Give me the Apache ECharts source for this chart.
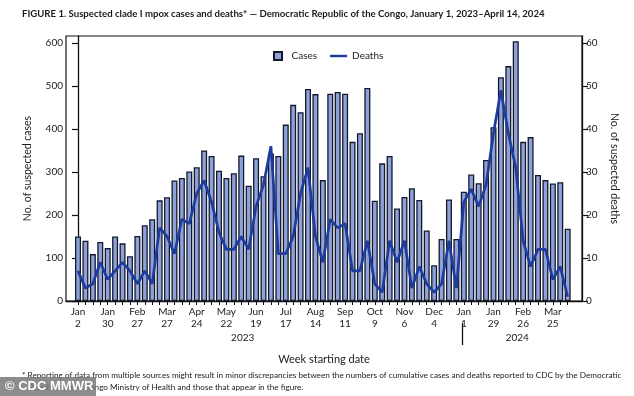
<!DOCTYPE html>
<html>
<head>
<meta charset="utf-8">
<script src="https://cdn.jsdelivr.net/npm/echarts@6/dist/echarts.min.js"></script>
<style>
  html, body { margin: 0; padding: 0; background: #fff; }
  #chart { width: 634px; height: 396px; }
</style>
</head>
<body>
<div id="chart"></div>
<script>
// week starting dates, Jan 2 2023 .. Apr 8 2024
const weeks = [
  'Jan 2', 'Jan 9', 'Jan 16', 'Jan 23', 'Jan 30', 'Feb 6', 'Feb 13', 'Feb 20', 'Feb 27',
  'Mar 6', 'Mar 13', 'Mar 20', 'Mar 27', 'Apr 3', 'Apr 10', 'Apr 17', 'Apr 24',
  'May 1', 'May 8', 'May 15', 'May 22', 'May 29', 'Jun 5', 'Jun 12', 'Jun 19', 'Jun 26',
  'Jul 3', 'Jul 10', 'Jul 17', 'Jul 24', 'Jul 31', 'Aug 7', 'Aug 14', 'Aug 21', 'Aug 28',
  'Sep 4', 'Sep 11', 'Sep 18', 'Sep 25', 'Oct 2', 'Oct 9', 'Oct 16', 'Oct 23', 'Oct 30',
  'Nov 6', 'Nov 13', 'Nov 20', 'Nov 27', 'Dec 4', 'Dec 11', 'Dec 18', 'Dec 25',
  'Jan 1', 'Jan 8', 'Jan 15', 'Jan 22', 'Jan 29', 'Feb 5', 'Feb 12', 'Feb 19', 'Feb 26',
  'Mar 4', 'Mar 11', 'Mar 18', 'Mar 25', 'Apr 1', 'Apr 8'
];

const cases = [
  150, 140, 109, 137, 123, 150, 134, 104, 151, 176, 190, 234, 241, 280, 286, 301, 311,
  350, 337, 303, 286, 297, 338, 268, 332, 290, 343, 337, 410, 456, 439, 493, 481, 281,
  482, 486, 482, 370, 390, 495, 233, 320, 337, 215, 242, 262, 235, 164, 83, 144, 236,
  144, 254, 294, 274, 328, 404, 520, 546, 604, 370, 381, 293, 281, 273, 276, 168
];

const deaths = [
  7, 3, 4, 9, 5, 7, 9, 7, 4, 7, 4, 17, 15, 11, 19, 18, 25, 28, 23, 16, 12, 12, 15, 12,
  22, 27, 36, 11, 11, 15, 25, 31, 15, 9, 19, 17, 18, 7, 7, 14, 4, 2, 14, 9, 14, 3, 8,
  4, 2, 4, 14, 3, 23, 26, 22, 27, 39, 49, 39, 31, 14, 8, 12, 12, 5, 8, 1
];

const caseTicks = [0, 100, 200, 300, 400, 500, 600];
const deathTicks = [0, 10, 20, 30, 40, 50, 60];
const years = ['2023', '2024'];

const FONT = 'Lato, "Liberation Sans", sans-serif';
const BAR_FILL = '#8fa2d8';
const BAR_EDGE = '#14182e';
const LINE_COLOR = '#1d3c9e';

const chart = echarts.init(document.getElementById('chart'), null, { renderer: 'canvas' });

const weekIdx = weeks.map((w, i) => i);
const labelIdx = weekIdx.filter(i => i % 4 === 0);

const option = {
  backgroundColor: '#fff',
  animation: false,
  textStyle: { fontFamily: FONT },
  grid: {
    left: 66, right: 52, top: 36, bottom: 95,
    show: true, borderColor: '#111', borderWidth: 1.2
  },
  legend: {
    left: 268, top: 46,
    itemWidth: 17, itemHeight: 8, itemGap: 13,
    textStyle: { fontFamily: FONT, fontSize: 10, color: '#222' },
    data: [
      { name: 'Cases', icon: 'path://M0,0 h8 v8 h-8 z' },
      { name: 'Deaths', icon: 'path://M0,0 h18 v2.6 h-18 z' }
    ]
  },
  xAxis: {
    type: 'value',
    min: -1.62,
    max: 67.93,
    splitLine: { show: false },
    axisLine: { show: true, lineStyle: { color: '#111', width: 1.3 } },
    axisTick: { show: true, length: 4, customValues: weekIdx, lineStyle: { color: '#111', width: 1 } },
    axisLabel: {
      customValues: labelIdx,
      formatter: v => weeks[v].replace(' ', '\n'),
      fontFamily: FONT, fontSize: 10, lineHeight: 12, color: '#222', margin: 5
    }
  },
  yAxis: [
    {
      type: 'value', min: 0, max: 616,
      name: 'No. of suspected cases', nameLocation: 'middle', nameGap: 33,
      nameTextStyle: { fontFamily: FONT, fontSize: 10.5, color: '#222' },
      splitLine: { show: false },
      axisLine: { show: true, lineStyle: { color: '#111', width: 1.3 } },
      axisTick: { show: true, length: 6, customValues: caseTicks, lineStyle: { color: '#111', width: 1.2 } },
      axisLabel: { customValues: caseTicks, fontFamily: FONT, fontSize: 10, color: '#222', margin: 3 }
    },
    {
      type: 'value', min: 0, max: 61.6, position: 'right',
      name: 'No. of suspected deaths', nameLocation: 'middle', nameGap: 19, nameRotate: -90,
      nameTextStyle: { fontFamily: FONT, fontSize: 10.5, color: '#222' },
      splitLine: { show: false },
      axisLine: { show: true, lineStyle: { color: '#111', width: 1.3 } },
      axisTick: { show: true, length: 6, customValues: deathTicks, lineStyle: { color: '#111', width: 1.2 } },
      axisLabel: { customValues: deathTicks, fontFamily: FONT, fontSize: 10, color: '#222', margin: 4 }
    }
  ],
  series: [
    {
      name: 'Cases',
      type: 'bar',
      barWidth: 6,
      itemStyle: { color: BAR_FILL, borderColor: BAR_EDGE, borderWidth: 1.3 },
      data: cases.map((v, i) => [i, v])
    },
    {
      name: 'Deaths',
      type: 'line',
      yAxisIndex: 1,
      symbol: 'none',
      lineStyle: { color: LINE_COLOR, width: 2.7 },
      itemStyle: { color: LINE_COLOR },
      data: deaths.map((v, i) => [i, v]),
      z: 5
    }
  ]
};

chart.setOption(option);

// decorations positioned from the axis scale
const px = i => chart.convertToPixel({ xAxisIndex: 0 }, i);
const sepX = Math.round(px(51.8)) + 0.5;
const yr1X = px(22.2);
const yr2X = px(59.2);

chart.setOption({
  graphic: [
    {
      type: 'text', left: 22, top: 9,
      style: {
        text: 'FIGURE 1. Suspected clade I mpox cases and deaths* \u2014 Democratic Republic of the Congo, January 1, 2023\u2013April 14, 2024',
        font: 'bold 9.6px ' + FONT, fill: '#1a1a1a'
      }
    },
    {
      type: 'text', x: yr1X, y: 333,
      style: { text: years[0], align: 'center', font: '10px ' + FONT, fill: '#222' }
    },
    {
      type: 'text', x: yr2X, y: 333,
      style: { text: years[1], align: 'center', font: '10px ' + FONT, fill: '#222' }
    },
    {
      type: 'line',
      shape: { x1: sepX, y1: 323, x2: sepX, y2: 345 },
      style: { stroke: '#111', lineWidth: 1.3 }
    },
    {
      type: 'text', x: 324, y: 354,
      style: { text: 'Week starting date', align: 'center', font: '11px ' + FONT, fill: '#222' }
    },
    {
      type: 'text', left: 22, top: 369,
      style: {
        text: '* Reporting of data from multiple sources might result in minor discrepancies between the numbers of cumulative cases and deaths reported to CDC by the Democratic\n   Republic of the Congo Ministry of Health and those that appear in the figure.',
        font: '8.2px ' + FONT, lineHeight: 12, fill: '#222'
      }
    },
    {
      type: 'group', left: 0, top: 377,
      children: [
        { type: 'rect', shape: { x: 0, y: 0, width: 96, height: 19 }, style: { fill: 'rgba(120,120,120,0.85)' } },
        { type: 'text', x: 5, y: 3, style: { text: '\u00a9 CDC MMWR', font: 'bold 13px "Liberation Sans", Arial, sans-serif', fill: '#fff' } }
      ]
    }
  ]
});
</script>
</body>
</html>
